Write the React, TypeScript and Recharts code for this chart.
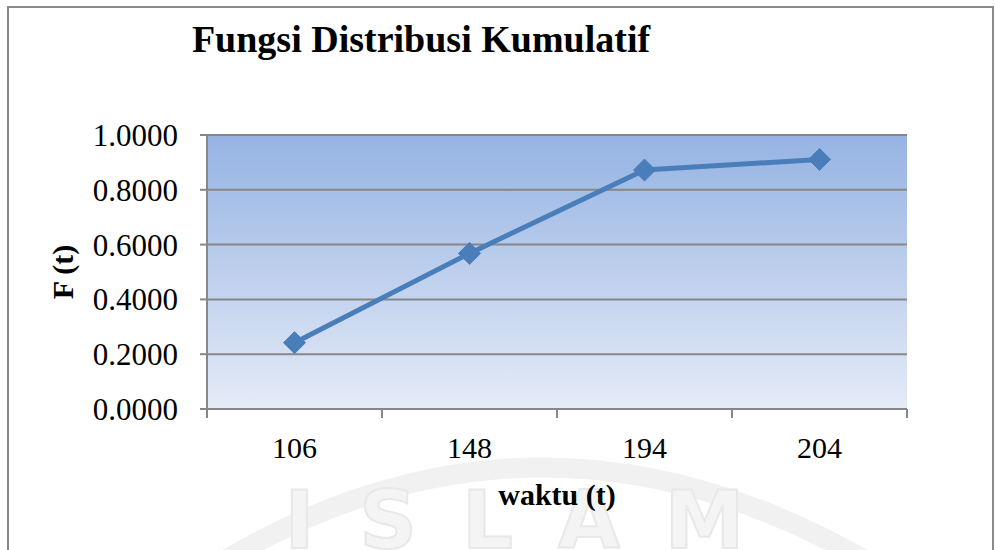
import React from 'react';
import { ComposedChart, Line, XAxis, YAxis, CartesianGrid } from 'recharts';

const categories = ['106', '148', '194', '204'];
const fValues = [0.242, 0.568, 0.872, 0.911];
const yTicks = [0, 0.2, 0.4, 0.6, 0.8, 1.0];

const data = categories.map((c, i) => ({ waktu: c, f: fValues[i] }));

const FONT = '"Liberation Serif", "Times New Roman", serif';
const HALF_BAND = 87.5;
const X_TICK_SIZE = 9;
const X_TICK_MARGIN = 19;
const AXIS_GRAY = '#878787';

const Diamond = (props: any) => {
  const { cx, cy } = props;
  if (cx == null || cy == null) return null;
  const r = 11;
  return (
    <polygon
      points={`${cx},${cy - r} ${cx + r},${cy} ${cx},${cy + r} ${cx - r},${cy}`}
      fill="#4a7ebb"
      stroke="#4a7ebb"
      strokeWidth={1}
    />
  );
};

const XTick = (props: any) => {
  const { x, y, payload, index, visibleTicksCount } = props;
  const lineY = y - X_TICK_SIZE - X_TICK_MARGIN;
  const isLast = index === visibleTicksCount - 1;
  return (
    <g>
      <line x1={x - HALF_BAND} x2={x - HALF_BAND} y1={lineY} y2={lineY + X_TICK_SIZE} stroke={AXIS_GRAY} strokeWidth={2} />
      {isLast && (
        <line x1={x + HALF_BAND} x2={x + HALF_BAND} y1={lineY} y2={lineY + X_TICK_SIZE} stroke={AXIS_GRAY} strokeWidth={2} />
      )}
      <text x={x} y={y} dy="0.71em" textAnchor="middle" fontFamily={FONT} fontSize={30} fill="#000">
        {payload.value}
      </text>
    </g>
  );
};

export default function App() {
  return (
    <div style={{ position: 'absolute', left: 0, top: 0, width: 995, height: 550, background: '#fff', overflow: 'hidden' }}>
      <svg width={995} height={550} style={{ position: 'absolute', left: 0, top: 0 }}>
        <path d="M 225 560 Q 540 375 865 560" fill="none" stroke="#f1f1f1" strokeWidth={20} />
        <text
          x={537}
          y={548}
          textAnchor="middle"
          fontFamily="DejaVu Sans, sans-serif"
          fontWeight="bold"
          fontSize={80}
          fill="#f4f4f4"
          stroke="#e8e8e8"
          strokeWidth={2}
          letterSpacing={45}
        >
          ISLAM
        </text>
        <rect x={8} y={7} width={985} height={560} fill="none" stroke="#8a8a8a" strokeWidth={2} />
      </svg>
      <div style={{ position: 'absolute', left: 0, top: 0 }}>
        <ComposedChart
          width={995}
          height={550}
          data={data}
          margin={{ top: 135, right: 88, bottom: 0, left: 0 }}
        >
          <defs>
            <linearGradient id="plotBg" x1="0" y1="0" x2="0" y2="1">
              <stop offset="0%" stopColor="#95b3e3" />
              <stop offset="100%" stopColor="#e5ebf7" />
            </linearGradient>
          </defs>
          <CartesianGrid
            vertical={false}
            horizontal={true}
            stroke={AXIS_GRAY}
            strokeWidth={2}
            fill="url(#plotBg)"
            fillOpacity={1}
          />
          <XAxis
            dataKey="waktu"
            height={141}
            padding={{ left: HALF_BAND, right: HALF_BAND }}
            tickSize={X_TICK_SIZE}
            tickMargin={X_TICK_MARGIN}
            axisLine={{ stroke: AXIS_GRAY, strokeWidth: 2 }}
            tickLine={false}
            tick={<XTick />}
            interval={0}
            label={{
              value: 'waktu (t)',
              position: 'insideTop',
              offset: 75,
              style: { fontFamily: FONT, fontSize: 30, fontWeight: 'bold', fill: '#000' },
            }}
          />
          <YAxis
            type="number"
            domain={[0, 1]}
            ticks={yTicks}
            width={207}
            tickSize={7}
            tickMargin={22}
            tickFormatter={(v: number) => v.toFixed(4)}
            axisLine={{ stroke: AXIS_GRAY, strokeWidth: 2 }}
            tickLine={{ stroke: AXIS_GRAY, strokeWidth: 2 }}
            tick={{ fontFamily: FONT, fontSize: 31, fill: '#000' }}
            label={{
              value: 'F (t)',
              angle: -90,
              position: 'insideLeft',
              offset: 62,
              style: { fontFamily: FONT, fontSize: 30, fontWeight: 'bold', fill: '#000', textAnchor: 'middle' },
            }}
          />
          <Line
            type="linear"
            dataKey="f"
            stroke="#4a7ebb"
            strokeWidth={5}
            dot={<Diamond />}
            activeDot={false}
            isAnimationActive={false}
          />
        </ComposedChart>
      </div>
      <svg width={995} height={100} style={{ position: 'absolute', left: 0, top: 0, pointerEvents: 'none' }}>
        <text
          x={421}
          y={52}
          textAnchor="middle"
          fontFamily={FONT}
          fontWeight="bold"
          fontSize={38}
          fill="#000"
        >
          Fungsi Distribusi Kumulatif
        </text>
      </svg>
    </div>
  );
}
